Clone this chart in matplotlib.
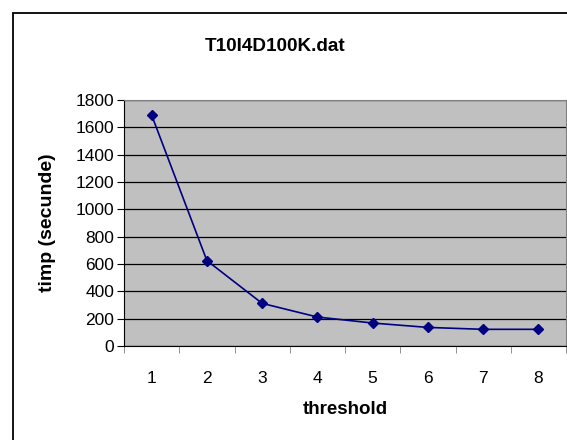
import matplotlib
matplotlib.use("Agg")
import matplotlib.pyplot as plt
from matplotlib.patches import Rectangle

plt.rcParams['font.family'] = ['Liberation Sans', 'DejaVu Sans']

# data
threshold = [1, 2, 3, 4, 5, 6, 7, 8]
timp = [1690, 625, 312, 212, 168, 136, 122, 122]
yticks = list(range(0, 1801, 200))

W, H = 567, 440
fig = plt.figure(figsize=(W / 100, H / 100), dpi=100)

# outer chart frame (right and bottom run off the picture)
fig.patches.append(Rectangle((13 / W, -0.1), 1.2, (H - 13) / H + 0.1,
                             transform=fig.transFigure, fill=False,
                             edgecolor='black', linewidth=1.3))

ax = fig.add_axes([124 / W, (H - 346) / H, (566 - 124) / W, (346 - 100) / H])
ax.set_facecolor('#C0C0C0')

ax.plot(threshold, timp, color='#000080', linewidth=1.2,
        marker='D', markersize=5.5, markerfacecolor='#000080',
        markeredgecolor='#000080', zorder=3)

ax.set_xlim(0.5, 8.5)
ax.set_ylim(0, 1800)
ax.set_yticks(yticks)
ax.set_xticks(threshold)
ax.set_xticks([t + 0.5 for t in [0] + threshold], minor=True)
ax.tick_params(axis='x', which='major', length=0, pad=18, labelsize=12.5)
ax.tick_params(axis='x', which='minor', length=5, color='#808080', direction='out')
ax.tick_params(axis='y', length=5, direction='out', labelsize=12.5, pad=2)

ax.grid(axis='y', color='black', linewidth=0.9)
ax.set_axisbelow(True)

for s in ['top', 'right']:
    ax.spines[s].set_color('#808080')
for s in ['left', 'bottom']:
    ax.spines[s].set_color('black')

ax.set_xlabel('threshold', fontsize=13.5, fontweight='bold', va='center')
ax.xaxis.set_label_coords(0.5, -(409 - 346) / 246)
ax.set_ylabel('timp (secunde)', fontsize=14, fontweight='bold', va='center')
ax.yaxis.set_label_coords(-(124 - 47) / 442, 0.5)

fig.text(275 / W, (H - 51) / H, 'T10I4D100K.dat', ha='center', va='baseline',
         fontsize=13.6, fontweight='bold')

fig.savefig('out.png', dpi=100)
